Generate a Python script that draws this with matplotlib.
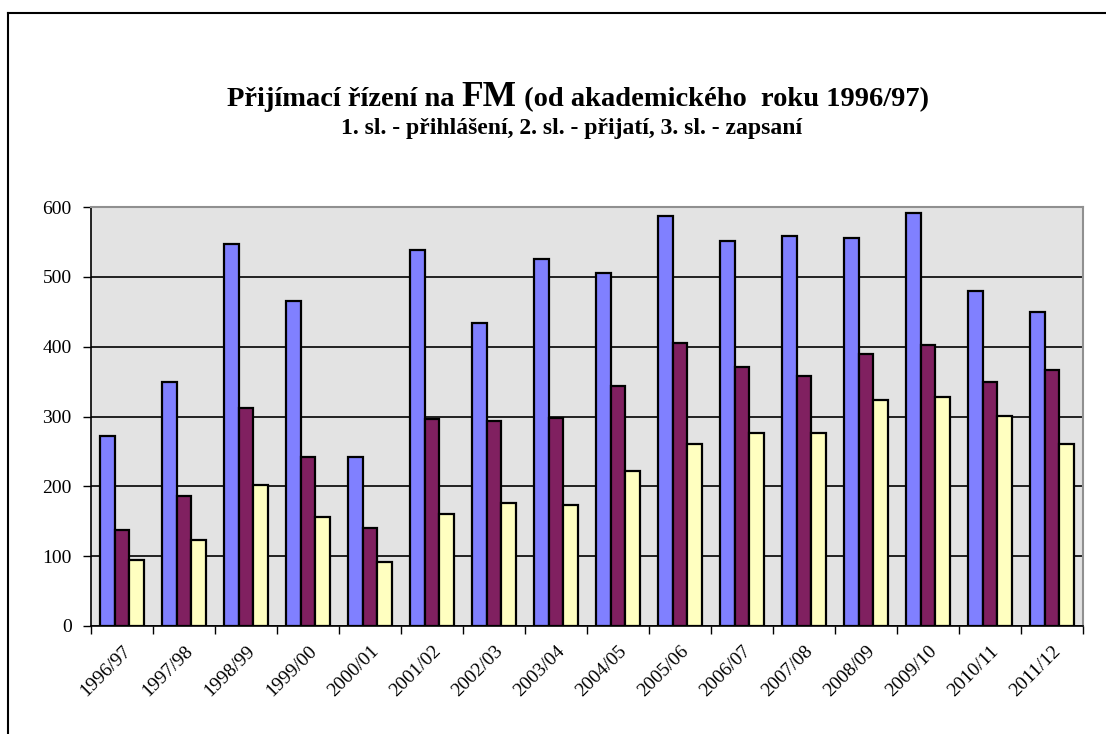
import matplotlib
matplotlib.use('Agg')
import matplotlib.pyplot as plt
import numpy as np

# data
roky = ['1996/97', '1997/98', '1998/99', '1999/00', '2000/01', '2001/02',
        '2002/03', '2003/04', '2004/05', '2005/06', '2006/07', '2007/08',
        '2008/09', '2009/10', '2010/11', '2011/12']
prihlaseni = [272, 350, 547, 466, 242, 538, 434, 526, 505, 587, 552, 558, 556, 592, 479, 449]
prijati = [137, 186, 312, 242, 141, 297, 294, 298, 343, 405, 371, 358, 389, 402, 349, 367]
zapsani = [95, 123, 202, 156, 91, 160, 176, 173, 222, 260, 277, 277, 323, 328, 301, 260]

plt.rcParams['font.family'] = ['Liberation Serif', 'DejaVu Serif']

fig = plt.figure(figsize=(11.06, 7.34), dpi=100)
W, H = 1106, 734
ax = fig.add_axes([91 / W, 1 - 626 / H, (1083 - 91) / W, (626 - 207) / H])
ax.set_facecolor('#e3e3e3')

x = np.arange(len(roky))
w = 0.235
ax.bar(x - w, prihlaseni, w, color='#8080ff', edgecolor='black', linewidth=1.6, zorder=3)
ax.bar(x, prijati, w, color='#802060', edgecolor='black', linewidth=1.6, zorder=3)
ax.bar(x + w, zapsani, w, color='#ffffc0', edgecolor='black', linewidth=1.6, zorder=3)

ax.set_xlim(-0.5, len(roky) - 0.5)
ax.set_ylim(0, 600)
ax.set_yticks(range(0, 601, 100))
ax.yaxis.grid(True, color='black', linewidth=1.2, zorder=1)
ax.set_axisbelow(True)
ax.tick_params(axis='y', direction='out', length=6, width=1, labelsize=14, pad=8)

# tick marks between groups, labels under group centres
ax.set_xticks(np.arange(-0.5, len(roky), 1.0))
ax.set_xticklabels([])
ax.tick_params(axis='x', which='major', direction='out', length=6, width=1)
ax.set_xticks(x, minor=True)
ax.set_xticklabels(roky, minor=True, rotation=45, ha='right', va='top',
                   rotation_mode='anchor', fontsize=14)
ax.tick_params(axis='x', which='minor', length=0, pad=12)

for s in ['top', 'right']:
    ax.spines[s].set_color('#909090')
    ax.spines[s].set_linewidth(1.5)
for s in ['left', 'bottom']:
    ax.spines[s].set_color('black')
    ax.spines[s].set_linewidth(1.2)

# outer frame (top and left edge visible)
fig.add_artist(plt.Line2D([8 / W, 1], [1 - 13 / H, 1 - 13 / H], color='black', linewidth=1.5))
fig.add_artist(plt.Line2D([8 / W, 8 / W], [0, 1 - 13 / H], color='black', linewidth=1.5))

# title with a larger "FM"
casti = [('Přijímací řízení na ', 20.5), ('FM', 25.5), (' (od akademického  roku 1996/97)', 20.5)]
renderer = fig.canvas.get_renderer()
texty = []
sirka = 0
for t, fs in casti:
    tx = fig.text(0, 0, t, fontsize=fs, fontweight='bold', va='baseline', ha='left')
    bb = tx.get_window_extent(renderer=renderer)
    texty.append((tx, bb.width))
    sirka += bb.width
x0 = 578 - sirka / 2
for tx, sw in texty:
    tx.set_position((x0 / W, 1 - 106 / H))
    x0 += sw

fig.text(572 / W, 1 - 134 / H, '1. sl. - přihlášení, 2. sl. - přijatí, 3. sl. - zapsaní',
         fontsize=17, fontweight='bold', ha='center', va='baseline')

fig.savefig('out.png', dpi=100)
